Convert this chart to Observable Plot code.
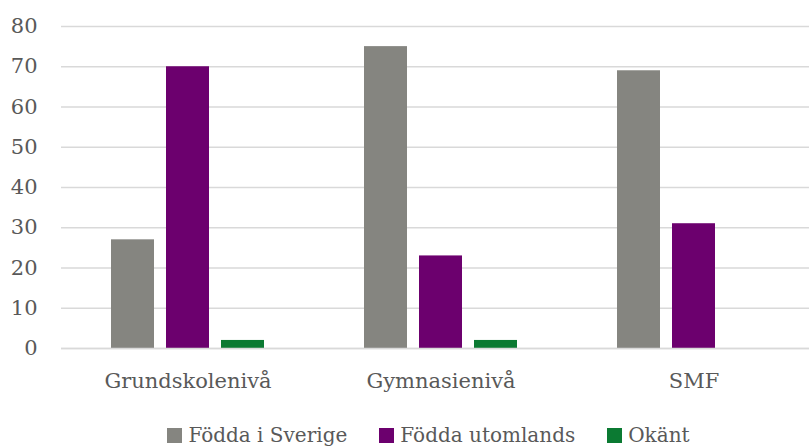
<!DOCTYPE html>
<html>
<head>
<meta charset="utf-8">
<script src="https://cdn.jsdelivr.net/npm/d3@7"></script>
<script src="https://cdn.jsdelivr.net/npm/@observablehq/plot@0.6"></script>
<style>
  body { margin: 0; background: #fff; font-family: "DejaVu Serif", serif; }
  #legend { display: flex; justify-content: center; gap: 32px; font-size: 20px; color: #595959; margin-left: 48px; margin-top: 18px; }
  #legend span.item { display: flex; align-items: center; gap: 6px; }
  #legend span.sw { width: 15px; height: 15px; display: inline-block; }
</style>
</head>
<body>
<div id="chart"></div>
<div id="legend"></div>
<script>
const categories = ["Grundskolenivå", "Gymnasienivå", "SMF"];
const series = ["Födda i Sverige", "Födda utomlands", "Okänt"];
const colors = ["#858580", "#6c006e", "#0b7a32"];
const fodda_sverige = [27, 75, 69];
const fodda_utomlands = [70, 23, 31];
const okant = [2, 2, 0];
const yTicks = [0, 10, 20, 30, 40, 50, 60, 70, 80];

const seriesValues = [fodda_sverige, fodda_utomlands, okant];
const data = [];
categories.forEach((c, i) => series.forEach((s, j) => data.push({category: c, series: s, value: seriesValues[j][i]})));

const chart = Plot.plot({
  width: 809,
  height: 405,
  marginLeft: 61,
  marginRight: -11,
  marginTop: 26,
  marginBottom: 57,
  style: {fontFamily: "DejaVu Serif, serif", fontSize: "21px", color: "#595959", background: "#fff"},
  fx: {domain: categories, padding: 0, label: null, axis: "bottom", tickSize: 0, tickPadding: 25},
  x: {domain: series, paddingInner: 0.214, paddingOuter: 0.866, axis: null},
  y: {domain: [0, 80], ticks: yTicks, label: null, tickSize: 0, tickPadding: 24},
  color: {domain: series, range: colors},
  marks: [
    Plot.gridY(yTicks, {stroke: "#d9d9d9", strokeOpacity: 1, strokeWidth: 1.5}),
    Plot.barY(data, {fx: "category", x: "series", y: "value", fill: "series"}),
    Plot.ruleY([0], {stroke: "#d9d9d9", strokeWidth: 1.5})
  ]
});
document.getElementById("chart").appendChild(chart);

const legend = document.getElementById("legend");
series.forEach((s, i) => {
  const item = document.createElement("span");
  item.className = "item";
  const sw = document.createElement("span");
  sw.className = "sw";
  sw.style.background = colors[i];
  item.appendChild(sw);
  item.appendChild(document.createTextNode(s));
  legend.appendChild(item);
});
</script>
</body>
</html>
